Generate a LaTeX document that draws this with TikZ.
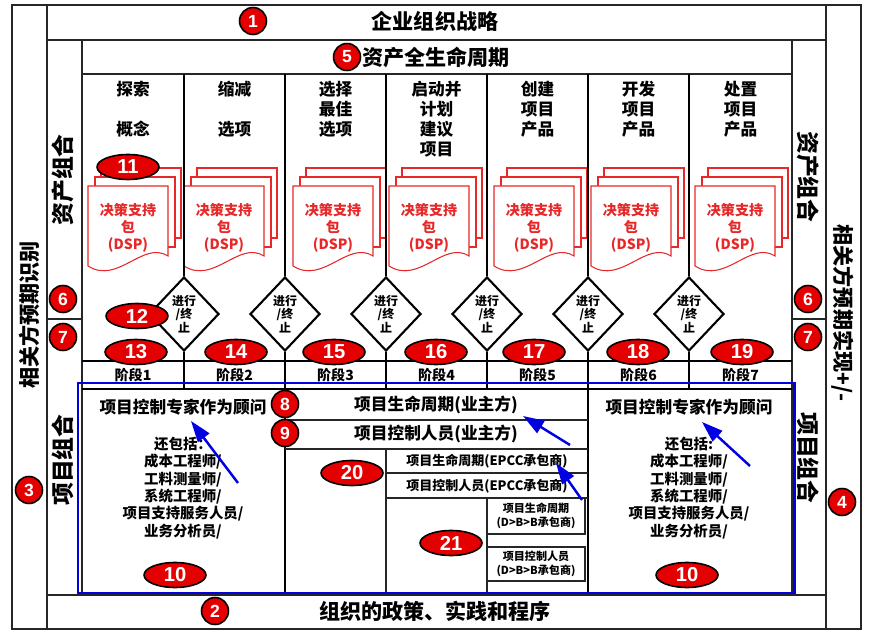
\documentclass[tikz,border=0pt]{standalone}
\usepackage{fontspec}
\setmainfont{Noto Sans CJK SC}
\newfontfamily\numfont{Liberation Sans}
\usepackage{tikz}
\usetikzlibrary{arrows.meta,positioning,shapes.geometric,calc}
\usepackage{xcolor}

\definecolor{numred}{RGB}{228,0,0}
\definecolor{docred}{RGB}{232,40,40}
\definecolor{pcblue}{RGB}{0,0,225}

\newcommand{\fs}[2]{\fontsize{#1}{#2}\selectfont}

\tikzset{
  boxline/.style={draw=black!85, line width=0.8pt},
  thickline/.style={draw=black, line width=1.4pt},
  numcirc/.style={circle, draw=black, line width=0.9pt, fill=numred, text=white, inner sep=0pt, minimum size=0.54cm, font=\numfont\bfseries\fs{10}{10}},
  numoval/.style={ellipse, draw=black, line width=0.9pt, fill=numred, text=white, inner sep=0pt, minimum width=1.24cm, minimum height=0.5cm, font=\numfont\bfseries\fs{11.5}{11.5}},
  docpage/.style={draw=docred, line width=0.6pt, fill=white},
  dsptext/.style={text=docred, align=center, inner sep=0pt, font=\bfseries\fs{8}{9.6}},
  gonogo/.style={diamond, draw=black, line width=1.2pt, fill=white, inner sep=0pt, minimum width=1.4cm, minimum height=1.48cm, align=center, font=\bfseries\fs{6.8}{7.7}},
  bigtitle/.style={font=\bfseries\fs{12}{12}, inner sep=0pt},
  sidetitle/.style={font=\bfseries\fs{13}{13}, inner sep=0pt},
  phasehead/.style={align=center, anchor=north, inner sep=0pt, font=\bfseries\fs{9.5}{11.3}},
  stagelbl/.style={font=\bfseries\fs{8}{8}, inner sep=0pt},
  boxhead/.style={font=\bfseries\fs{9.5}{9.5}, inner sep=0pt},
  rolelist/.style={align=center, inner sep=0pt, font=\bfseries\fs{8.2}{9.9}},
  ownerrow/.style={font=\bfseries\fs{9.5}{9.5}, inner sep=0pt},
  epccrow/.style={font=\bfseries\fs{7.4}{7.4}, inner sep=0pt},
  dbbrow/.style={align=center, inner sep=0pt, font=\bfseries\fs{6.3}{7.9}},
  hint/.style={->, draw=pcblue, line width=1.4pt},
}

\begin{document}
\begin{tikzpicture}[x=0.02cm, y=-0.02cm, >={Triangle[length=12pt,width=8pt]}]
  \useasboundingbox (0,0) rectangle (875,641);

  % Frames
  \draw[boxline] (12,5) rectangle (861,629);
  \draw[boxline] (47,5) rectangle (826,629);
  \draw[boxline] (47,40) -- (826,40);
  \draw[boxline] (47,595) -- (826,595);
  \draw[boxline] (82,40) rectangle (792,74);
  \draw[boxline] (82,74) -- (82,595);
  \draw[boxline] (792,74) -- (792,595);
  \draw[boxline] (47,319) -- (82,319);
  \draw[boxline] (792,319) -- (826,319);

  % Decision support packages
  \foreach \l [count=\i] in {88,184,293,389,494,591,695} {
    \draw[docpage] (\l+13,168) rectangle (\l+93,238);
    \draw[docpage] (\l+7,177) rectangle (\l+87,247);
    \draw[docpage] (\l,266) -- (\l,186) -- (\l+80,186) -- (\l+80,256)
      .. controls (\l+55,240) and (\l+30,285) .. (\l,266) -- cycle;
    \node[dsptext] (dsp\i) at (\l+40,228) {决策支持\\包\\(DSP)};
  }

  % Stage row
  \draw[thickline] (82,361) -- (792,361);
  \draw[thickline] (82,389) -- (792,389);

  % Gates between stages
  \foreach \x [count=\i] in {184,285,386,487,588,689} {
    \node[gonogo] (gate\i) at (\x,314) {进行\\/终\\止};
    \coordinate (top\i) at (\x,74);
    \coordinate (bot\i) at (\x,389);
    \draw[thickline] (top\i) -- (gate\i.north);
    \draw[thickline] (gate\i.south) -- (bot\i);
  }

  % Stage headings
  \node[phasehead] (ph1) at (133,81) {探索\\[11.3pt]概念};
  \node[phasehead] (ph2) at (234.5,81) {缩减\\[11.3pt]选项};
  \node[phasehead] (ph3) at (335.5,81) {选择\\最佳\\选项};
  \node[phasehead] (ph4) at (436.5,81) {启动并\\计划\\建议\\项目};
  \node[phasehead] (ph5) at (537.5,81) {创建\\项目\\产品};
  \node[phasehead] (ph6) at (638.5,81) {开发\\项目\\产品};
  \node[phasehead] (ph7) at (740.5,81) {处置\\项目\\产品};

  \foreach \x [count=\i] in {133,234.5,335.5,436.5,537.5,638.5,740.5}
    \node[stagelbl] (stage\i) at (\x,375) {阶段\i};

  % Project area
  \draw[thickline] (285,389) -- (285,594);
  \draw[thickline] (588,389) -- (588,594);
  \draw[boxline] (285,420) -- (588,420);
  \draw[boxline] (285,449) -- (588,449);
  \draw[boxline] (386,449) -- (386,594);
  \draw[boxline] (386,473) -- (588,473);
  \draw[boxline] (386,498) -- (588,498);
  \draw[boxline] (487,498) -- (487,594);
  \draw[boxline] (487,498) rectangle (585,534);
  \draw[boxline] (487,547) rectangle (585,581);
  \draw[draw=pcblue, line width=1.7pt] (78,383) rectangle (794,593);

  % Titles
  \node[bigtitle] (strategy) at (435,21) {企业组织战略};
  \node[bigtitle] (lifecycle) at (436,57) {资产全生命周期};
  \node[bigtitle] (policy) at (435,611) {组织的政策、实践和程序};
  \node[sidetitle, rotate=90] (apl) at (63,180) {资产组合};
  \node[sidetitle, rotate=90] (ppl) at (63,460) {项目组合};
  \node[sidetitle, rotate=-90] (apr) at (808,177) {资产组合};
  \node[sidetitle, rotate=-90] (ppr) at (808,458) {项目组合};
  \node[bigtitle, rotate=90] (stakein) at (29,315) {相关方预期识别};
  \node[bigtitle, rotate=-90] (stakeout) at (843,313) {相关方预期实现+/-};

  % Project control texts
  \node[boxhead] (advl) at (183,407) {项目控制专家作为顾问};
  \node[rolelist] (rolel) at (183,488) {还包括：\\成本工程师/\\工料测量师/\\系统工程师/\\项目支持服务人员/\\业务分析员/};
  \node[boxhead] (advr) at (689,407) {项目控制专家作为顾问};
  \node[rolelist] (roler) at (689,488) {还包括:\\成本工程师/\\工料测量师/\\系统工程师/\\项目支持服务人员/\\业务分析员/};
  \node[ownerrow] (ownlc) at (436,405) {项目生命周期(业主方)};
  \node[ownerrow] (ownpc) at (436,434) {项目控制人员(业主方)};
  \node[epccrow] (epcclc) at (487,461) {项目生命周期(EPCC承包商)};
  \node[epccrow] (epccpc) at (487,486) {项目控制人员(EPCC承包商)};
  \node[dbbrow] (dbblc) at (536,516) {项目生命周期\\(D>B>B承包商)};
  \node[dbbrow] (dbbpc) at (536,564) {项目控制人员\\(D>B>B承包商)};

  % Number markers
  \node[numcirc] (n1) at (253,21) {1};
  \node[numcirc] (n2) at (215,611) {2};
  \node[numcirc] (n3) at (29,490) {3};
  \node[numcirc] (n4) at (842,502) {4};
  \node[numcirc] (n5) at (347,57) {5};
  \node[numcirc] (n6l) at (63,299) {6};
  \node[numcirc] (n7l) at (63,337) {7};
  \node[numcirc] (n6r) at (808,299) {6};
  \node[numcirc] (n7r) at (808,337) {7};
  \node[numcirc] (n8) at (285,404) {8};
  \node[numcirc] (n9) at (285,433) {9};
  \node[numoval] (o11) at (128,167) {11};
  \node[numoval] (o12) at (137,316) {12};
  \foreach \x/\n in {136/13,236/14,334/15,436/16,534/17,638/18,742/19}
    \node[numoval] (o\n) at (\x,352) {\n};
  \node[numoval] (o10l) at (175,575) {10};
  \node[numoval] (o10r) at (687,575) {10};
  \node[numoval] (o20) at (352,473) {20};
  \node[numoval] (o21) at (451,543) {21};

  % Draw arrows
  \coordinate (h1a) at (238,483);
  \coordinate (h1b) at (191,421);
  \coordinate (h2a) at (570,445);
  \coordinate (h2b) at (523,416);
  \coordinate (h3a) at (582,500);
  \coordinate (h3b) at (556,463);
  \coordinate (h4a) at (750,466);
  \coordinate (h4b) at (702,422);
  \draw[hint] (h1a) -- (h1b);
  \draw[hint] (h2a) -- (h2b);
  \draw[hint] (h3a) -- (h3b);
  \draw[hint] (h4a) -- (h4b);
\end{tikzpicture}
\end{document}
